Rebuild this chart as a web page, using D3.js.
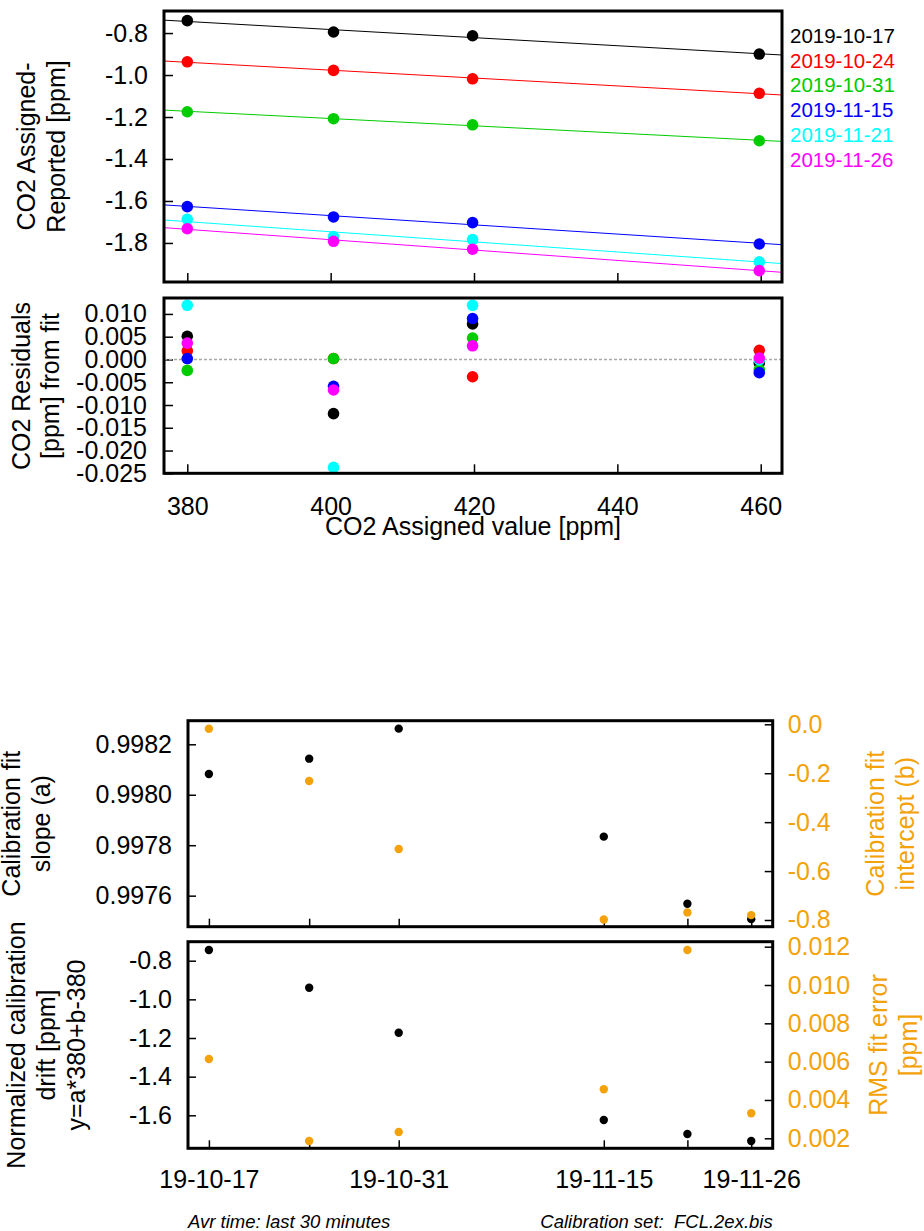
<!DOCTYPE html>
<html>
<head>
<meta charset="utf-8">
<script src="https://cdn.jsdelivr.net/npm/d3@7"></script>
<style>
body{margin:0;background:#fff;}
text{font-family:"Liberation Sans",Arial,sans-serif;}
</style>
</head>
<body>
<svg id="main"></svg>
<script>
var WIDTH=924;
var HEIGHT=1231;

// CO2 assigned values of the calibration cylinders
var assigned=[380.0,400.4,419.8,459.8];
var seriesNames=["2019-10-17","2019-10-24","2019-10-31","2019-11-15","2019-11-21","2019-11-26"];
var seriesColors=["#000000","#ff0000","#00cc00","#0000ff","#00ffff","#ff00ff"];

// assigned - reported [ppm]
var diff1017=[-0.741,-0.795,-0.813,-0.900];
var diff1024=[-0.937,-0.978,-1.018,-1.087];
var diff1031=[-1.175,-1.208,-1.237,-1.313];
var diff1115=[-1.627,-1.676,-1.703,-1.805];
var diff1121=[-1.687,-1.770,-1.784,-1.890];
var diff1126=[-1.732,-1.792,-1.830,-1.932];

// residuals from fit [ppm]
var res1017=[0.0051,-0.0119,0.0078,-0.0008];
var res1024=[0.0019,0.0002,-0.0038,0.0020];
var res1031=[-0.0024,0.0002,0.0047,-0.0022];
var res1115=[0.0002,-0.0059,0.0090,-0.0029];
var res1121=[0.0119,-0.0237,0.0119,-0.0001];
var res1126=[0.0036,-0.0067,0.0030,0.0003];

var diffs=[diff1017,diff1024,diff1031,diff1115,diff1121,diff1126];
var resids=[res1017,res1024,res1031,res1115,res1121,res1126];

// calibration times and fit results
var calTimes=["2019-10-17T10:00","2019-10-24T19:30","2019-10-31T10:00","2019-11-15T13:00","2019-11-21T17:00","2019-11-26T10:00"];
var slopeA=[0.998082,0.998143,0.998262,0.997834,0.997568,0.997507];
var interceptB=[-0.018,-0.232,-0.510,-0.798,-0.769,-0.780];
var driftVal=[-0.745,-0.940,-1.173,-1.624,-1.697,-1.733];
var rmsErr=[0.00614,0.00186,0.00233,0.00456,0.01183,0.00331];

// tick values
var xTicksTop=[380,400,420,440,460];
var yTicksDiff=[-0.8,-1.0,-1.2,-1.4,-1.6,-1.8];
var yTicksRes=[0.010,0.005,0,-0.005,-0.010,-0.015,-0.020,-0.025];
var yTicksSlope=[0.9976,0.9978,0.9980,0.9982];
var yTicksInter=[0,-0.2,-0.4,-0.6,-0.8];
var yTicksDrift=[-0.8,-1.0,-1.2,-1.4,-1.6];
var yTicksRms=[0.002,0.004,0.006,0.008,0.010,0.012];
var dateLabels=["19-10-17","19-10-31","19-11-15","19-11-26"];

var ORANGE="#f4a20a";
var FS=25;

var svg=d3.select("#main").attr("width",WIDTH).attr("height",HEIGHT);
svg.append("rect").attr("width",WIDTH).attr("height",HEIGHT).attr("fill","#fff");

var parseT=d3.timeParse("%Y-%m-%dT%H:%M");
var times=calTimes.map(function(s){return parseT(s)});
var fmtShort=d3.timeFormat("%y-%m-%d");

function linFit(xs,ys){
    var mx=d3.mean(xs),my=d3.mean(ys);
    var sxy=0,sxx=0;
    for(var i=0;i<xs.length;i++){
        sxy+=(xs[i]-mx)*(ys[i]-my);
        sxx+=(xs[i]-mx)*(xs[i]-mx);
    }
    var b=sxy/sxx;
    return [b,my-b*mx];
}

function styleAxis(g,color){
    g.select(".domain").remove();
    g.selectAll(".tick line").attr("stroke","#000").attr("stroke-width",1.5);
    g.selectAll(".tick text").attr("font-size",FS).attr("fill",color||"#000")
        .style("font-family",'"Liberation Sans",Arial,sans-serif');
}

function frame(x0,y0,x1,y1){
    svg.append("rect").attr("x",x0).attr("y",y0).attr("width",x1-x0).attr("height",y1-y0)
        .attr("fill","none").attr("stroke","#000").attr("stroke-width",3);
}

//竖排的轴标题，多行
function vTitle(lines,x0,gap,cy,color){
    lines.forEach(function(t,i){
        svg.append("text")
            .attr("transform","translate("+(x0+i*gap)+","+cy+") rotate(-90)")
            .attr("text-anchor","middle")
            .attr("font-size",FS)
            .attr("fill",color||"#000")
            .text(t);
    });
}

/* ---------- panel 1: assigned - reported ---------- */
var P1={l:164,r:782,t:11,b:282};
var xCO2=d3.scaleLinear().domain([376.75,462.97]).range([P1.l,P1.r]);
var yDiff=d3.scaleLinear().domain([-1.986,-0.695]).range([P1.b,P1.t]);

svg.append("g").attr("transform","translate("+P1.l+",0)")
    .call(d3.axisLeft(yDiff).tickValues(yTicksDiff).tickSize(-9).tickPadding(16)
        .tickFormat(function(d){return d.toFixed(1)}))
    .call(styleAxis);
svg.append("g").attr("transform","translate(0,"+P1.b+")")
    .call(d3.axisBottom(xCO2).tickValues(xTicksTop).tickSize(-9).tickFormat(""))
    .call(styleAxis);

var fitG=svg.append("g").attr("class","fits");
diffs.forEach(function(ys,k){
    var f=linFit(assigned,ys);
    var xd=xCO2.domain();
    fitG.append("line")
        .attr("x1",xCO2(xd[0])).attr("y1",yDiff(f[0]*xd[0]+f[1]))
        .attr("x2",xCO2(xd[1])).attr("y2",yDiff(f[0]*xd[1]+f[1]))
        .attr("stroke",seriesColors[k]).attr("stroke-width",1);
});
diffs.forEach(function(ys,k){
    svg.append("g").selectAll("circle").data(ys).enter().append("circle")
        .attr("cx",function(d,i){return xCO2(assigned[i])})
        .attr("cy",function(d){return yDiff(d)})
        .attr("r",5.8)
        .attr("fill",seriesColors[k]);
});
frame(P1.l,P1.t,P1.r,P1.b);

// legend
seriesNames.forEach(function(n,i){
    svg.append("text").attr("x",790).attr("y",43+i*24.7)
        .attr("font-size",20.5).attr("fill",seriesColors[i]).text(n);
});
vTitle(["CO2 Assigned-","Reported [ppm]"],35,29.7,146.5);

/* ---------- panel 2: residuals ---------- */
var P2={l:164,r:782,t:298,b:473.3};
var yRes=d3.scaleLinear().domain([-0.025,0.0135]).range([P2.b,P2.t]);

svg.append("g").attr("transform","translate("+P2.l+",0)")
    .call(d3.axisLeft(yRes).tickValues(yTicksRes).tickSize(-9).tickPadding(17)
        .tickFormat(function(d){return Math.abs(d)<1e-9?"0.000":d.toFixed(3)}))
    .call(styleAxis);
svg.append("g").attr("transform","translate(0,"+P2.b+")")
    .call(d3.axisBottom(xCO2).tickValues(xTicksTop).tickSize(-9).tickPadding(24)
        .tickFormat(function(d){return d}))
    .call(styleAxis);

svg.append("line")
    .attr("x1",P2.l).attr("x2",P2.r).attr("y1",yRes(0)).attr("y2",yRes(0))
    .attr("stroke","#a8a8a8").attr("stroke-width",1.5).attr("stroke-dasharray","3,2");

resids.forEach(function(ys,k){
    svg.append("g").selectAll("circle").data(ys).enter().append("circle")
        .attr("cx",function(d,i){return xCO2(assigned[i])})
        .attr("cy",function(d){return yRes(d)})
        .attr("r",5.8)
        .attr("fill",seriesColors[k]);
});
frame(P2.l,P2.t,P2.r,P2.b);
vTitle(["CO2 Residuals","[ppm] from fit"],30,29,386);
svg.append("text").attr("x",(P2.l+P2.r)/2).attr("y",535)
    .attr("text-anchor","middle").attr("font-size",FS).text("CO2 Assigned value [ppm]");

/* ---------- panel 3 & 4: calibration history ---------- */
var P3={l:188,r:772.7,t:720.7,b:926.7};
var P4={l:188,r:772.7,t:941.7,b:1148.3};
var xT=d3.scaleTime()
    .domain([d3.timeHour.offset(times[0],-37),d3.timeHour.offset(times[times.length-1],38)])
    .range([P3.l,P3.r]);

function dateTick(d){
    var s=fmtShort(d);
    return dateLabels.indexOf(s)!=-1?s:"";
}

var ySlope=d3.scaleLinear().domain([0.997477,0.9982935]).range([P3.b,P3.t]);
var yInter=d3.scaleLinear().domain([-0.8274,0.0147]).range([P3.b,P3.t]);

svg.append("g").attr("transform","translate("+P3.l+",0)")
    .call(d3.axisLeft(ySlope).tickValues(yTicksSlope).tickSize(-8).tickPadding(16)
        .tickFormat(function(d){return d.toFixed(4)}))
    .call(styleAxis);
svg.append("g").attr("transform","translate("+P3.r+",0)")
    .call(d3.axisRight(yInter).tickValues(yTicksInter).tickSize(-8).tickPadding(15)
        .tickFormat(function(d){return Math.abs(d)<1e-9?"0.0":d.toFixed(1)}))
    .call(function(g){styleAxis(g,ORANGE)});
svg.append("g").attr("transform","translate(0,"+P3.b+")")
    .call(d3.axisBottom(xT).tickValues(times).tickSize(-8).tickFormat(""))
    .call(styleAxis);

svg.append("g").selectAll("circle").data(slopeA).enter().append("circle")
    .attr("cx",function(d,i){return xT(times[i])})
    .attr("cy",function(d){return ySlope(d)})
    .attr("r",4.2).attr("fill","#000");
svg.append("g").selectAll("circle").data(interceptB).enter().append("circle")
    .attr("cx",function(d,i){return xT(times[i])})
    .attr("cy",function(d){return yInter(d)})
    .attr("r",4.2).attr("fill",ORANGE);
frame(P3.l,P3.t,P3.r,P3.b);
vTitle(["Calibration fit","slope (a)"],20,30,823.7);
vTitle(["Calibration fit","intercept (b)"],884,30,823.7,ORANGE);

var yDrift=d3.scaleLinear().domain([-1.7707,-0.7017]).range([P4.b,P4.t]);
var yRms=d3.scaleLinear().domain([0.001478,0.01226]).range([P4.b,P4.t]);

svg.append("g").attr("transform","translate("+P4.l+",0)")
    .call(d3.axisLeft(yDrift).tickValues(yTicksDrift).tickSize(-8).tickPadding(16)
        .tickFormat(function(d){return d.toFixed(1)}))
    .call(styleAxis);
svg.append("g").attr("transform","translate("+P4.r+",0)")
    .call(d3.axisRight(yRms).tickValues(yTicksRms).tickSize(-8).tickPadding(15)
        .tickFormat(function(d){return d.toFixed(3)}))
    .call(function(g){styleAxis(g,ORANGE)});
svg.append("g").attr("transform","translate(0,"+P4.b+")")
    .call(d3.axisBottom(xT).tickValues(times).tickSize(-8).tickPadding(22).tickFormat(dateTick))
    .call(styleAxis);

svg.append("g").selectAll("circle").data(driftVal).enter().append("circle")
    .attr("cx",function(d,i){return xT(times[i])})
    .attr("cy",function(d){return yDrift(d)})
    .attr("r",4.2).attr("fill","#000");
svg.append("g").selectAll("circle").data(rmsErr).enter().append("circle")
    .attr("cx",function(d,i){return xT(times[i])})
    .attr("cy",function(d){return yRms(d)})
    .attr("r",4.2).attr("fill",ORANGE);
frame(P4.l,P4.t,P4.r,P4.b);
vTitle(["Normalized calibration","drift [ppm]","y=a*380+b-380"],25,30,1045);
vTitle(["RMS fit error","[ppm]"],887,30,1045,ORANGE);

// footer
svg.append("text").attr("x",P4.l).attr("y",1228)
    .attr("font-size",18.5).attr("font-style","italic").text("Avr time: last 30 minutes");
svg.append("text").attr("x",P4.r).attr("y",1228).attr("text-anchor","end")
    .style("white-space","pre")
    .attr("font-size",18.5).attr("font-style","italic").text("Calibration set:  FCL.2ex.bis");
</script>
</body>
</html>
